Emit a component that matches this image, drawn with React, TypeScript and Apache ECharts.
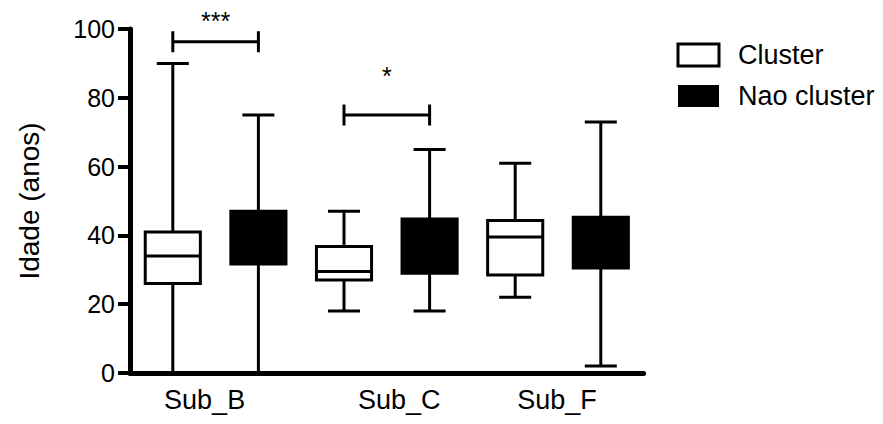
import React, { useEffect, useRef } from "react";
import * as echarts from "echarts";

// Subtypes on the x axis, two groups per subtype
const groups = ["Sub_B", "Sub_C", "Sub_F"];
const seriesNames = ["Cluster", "Nao cluster"];

// Box statistics per subtype: [min, Q1, median, Q3, max] (age in years)
const clusterStats = [
  [0, 26, 34, 41, 90],
  [18, 27, 29.5, 36.8, 47],
  [22, 28.5, 39.5, 44.3, 61],
];
const naoClusterStats = [
  [0, 31.7, 40, 47, 75],
  [18, 29, 37, 44.8, 65],
  [2, 30.5, 38, 45.3, 73],
];

// Significance brackets between the two boxes of a subtype
const sigGroups = [0, 1];
const sigLevels = [96.3, 75];
const sigMarks = ["***", "*"];
const sigMarkLevels = [102.4, 86.2];

const yTicks = [0, 20, 40, 60, 80, 100];

const FONT = '"Liberation Sans", Arial, Helvetica, sans-serif';

// small horizontal nudges of the category labels
const labelShift: Record<string, number[]> = {
  Sub_B: [0, 22, 0, 0],
  Sub_C: [0, 0, 0, 25],
  Sub_F: [0, 2, 0, 0],
};

function boxRenderer(side: number, fill: string) {
  return (params: any, api: any) => {
    const cat = api.value(0);
    const band = api.size([1, 0])[0];
    const cx = api.coord([cat, 0])[0] + (side * band) / 4;
    const py = (i: number) => api.coord([cat, api.value(i)])[1];
    const yMin = py(1);
    const yQ1 = py(2);
    const yMed = py(3);
    const yQ3 = py(4);
    const yMax = py(5);
    const boxW = band * 0.322;
    const capW = band * 0.187;
    const ls = { stroke: "#000", lineWidth: 3 };
    return {
      type: "group",
      children: [
        { type: "line", shape: { x1: cx, y1: yMin, x2: cx, y2: yMax }, style: ls },
        { type: "line", shape: { x1: cx - capW / 2, y1: yMin, x2: cx + capW / 2, y2: yMin }, style: ls },
        { type: "line", shape: { x1: cx - capW / 2, y1: yMax, x2: cx + capW / 2, y2: yMax }, style: ls },
        {
          type: "rect",
          shape: { x: cx - boxW / 2, y: yQ3, width: boxW, height: yQ1 - yQ3 },
          style: { fill, stroke: "#000", lineWidth: 3 },
        },
        { type: "line", shape: { x1: cx - boxW / 2, y1: yMed, x2: cx + boxW / 2, y2: yMed }, style: ls },
      ],
    };
  };
}

function sigRenderer(params: any, api: any) {
  const cat = api.value(0);
  const band = api.size([1, 0])[0];
  const c = api.coord([cat, api.value(1)]);
  const xl = c[0] - band / 4;
  const xr = c[0] + band / 4;
  const y = c[1];
  const h = 10.5;
  const ym = api.coord([cat, api.value(2)])[1];
  const ls = { stroke: "#000", lineWidth: 3 };
  return {
    type: "group",
    children: [
      { type: "line", shape: { x1: xl, y1: y, x2: xr, y2: y }, style: ls },
      { type: "line", shape: { x1: xl, y1: y - h, x2: xl, y2: y + h }, style: ls },
      { type: "line", shape: { x1: xr, y1: y - h, x2: xr, y2: y + h }, style: ls },
      {
        type: "text",
        style: {
          text: sigMarks[params.dataIndex],
          x: (xl + xr) / 2,
          y: ym,
          textAlign: "center",
          textVerticalAlign: "middle",
          fontSize: 25,
          fontFamily: FONT,
          fill: "#000",
        },
      },
    ],
  };
}

export default function App() {
  const ref = useRef<HTMLDivElement>(null);

  useEffect(() => {
    if (!ref.current) return;
    const chart = echarts.init(ref.current, null, { renderer: "svg" });

    const rich: Record<string, any> = {};
    groups.forEach((g) => {
      rich[g] = { fontSize: 27, fontFamily: FONT, color: "#000", padding: labelShift[g] };
    });

    chart.setOption({
      animation: false,
      backgroundColor: "#fff",
      grid: { left: 130, right: 239.4, top: 29, bottom: 51, containLabel: false },
      legend: {
        orient: "vertical",
        left: 671.5,
        top: 36.5,
        icon: "rect",
        itemWidth: 41,
        itemHeight: 22,
        itemGap: 14,
        selectedMode: false,
        textStyle: { fontSize: 27, fontFamily: FONT, color: "#000", padding: [0, 0, 0, 14] },
        data: [
          { name: seriesNames[0], itemStyle: { color: "#fff", borderColor: "#000", borderWidth: 3 } },
          { name: seriesNames[1], itemStyle: { color: "#000", borderWidth: 0 } },
        ],
      },
      xAxis: {
        type: "category",
        data: groups,
        axisLine: { show: true, lineStyle: { color: "#000", width: 5 } },
        axisTick: { show: false },
        axisLabel: {
          margin: 13,
          formatter: (v: string) => `{${v}|${v}}`,
          rich,
        },
        splitLine: { show: false },
      },
      yAxis: {
        type: "value",
        min: 0,
        max: 100,
        interval: 20,
        name: "Idade (anos)",
        nameLocation: "middle",
        nameGap: 87,
        nameTextStyle: { fontSize: 28, fontFamily: FONT, color: "#000" },
        axisLine: { show: true, lineStyle: { color: "#000", width: 5 } },
        axisTick: { show: true, length: 12, lineStyle: { color: "#000", width: 4 } },
        axisLabel: {
          fontSize: 25,
          fontFamily: FONT,
          color: "#000",
          margin: 15,
          formatter: (v: number) => (yTicks.includes(v) ? String(v) : ""),
        },
        splitLine: { show: false },
      },
      series: [
        {
          name: seriesNames[0],
          type: "custom",
          itemStyle: { color: "#fff", borderColor: "#000" },
          renderItem: boxRenderer(-1, "#fff"),
          encode: { x: 0, y: [1, 2, 3, 4, 5] },
          data: clusterStats.map((s, i) => [i, ...s]),
          clip: false,
        },
        {
          name: seriesNames[1],
          type: "custom",
          itemStyle: { color: "#000" },
          renderItem: boxRenderer(1, "#000"),
          encode: { x: 0, y: [1, 2, 3, 4, 5] },
          data: naoClusterStats.map((s, i) => [i, ...s]),
          clip: false,
        },
        {
          name: "sig",
          type: "custom",
          renderItem: sigRenderer,
          encode: { x: 0, y: [1, 2] },
          data: sigGroups.map((g, i) => [g, sigLevels[i], sigMarkLevels[i]]),
          clip: false,
        },
      ],
    });

    return () => chart.dispose();
  }, []);

  return (
    <div
      ref={ref}
      style={{ position: "absolute", left: 0, top: 0, width: 883, height: 424 }}
    />
  );
}
